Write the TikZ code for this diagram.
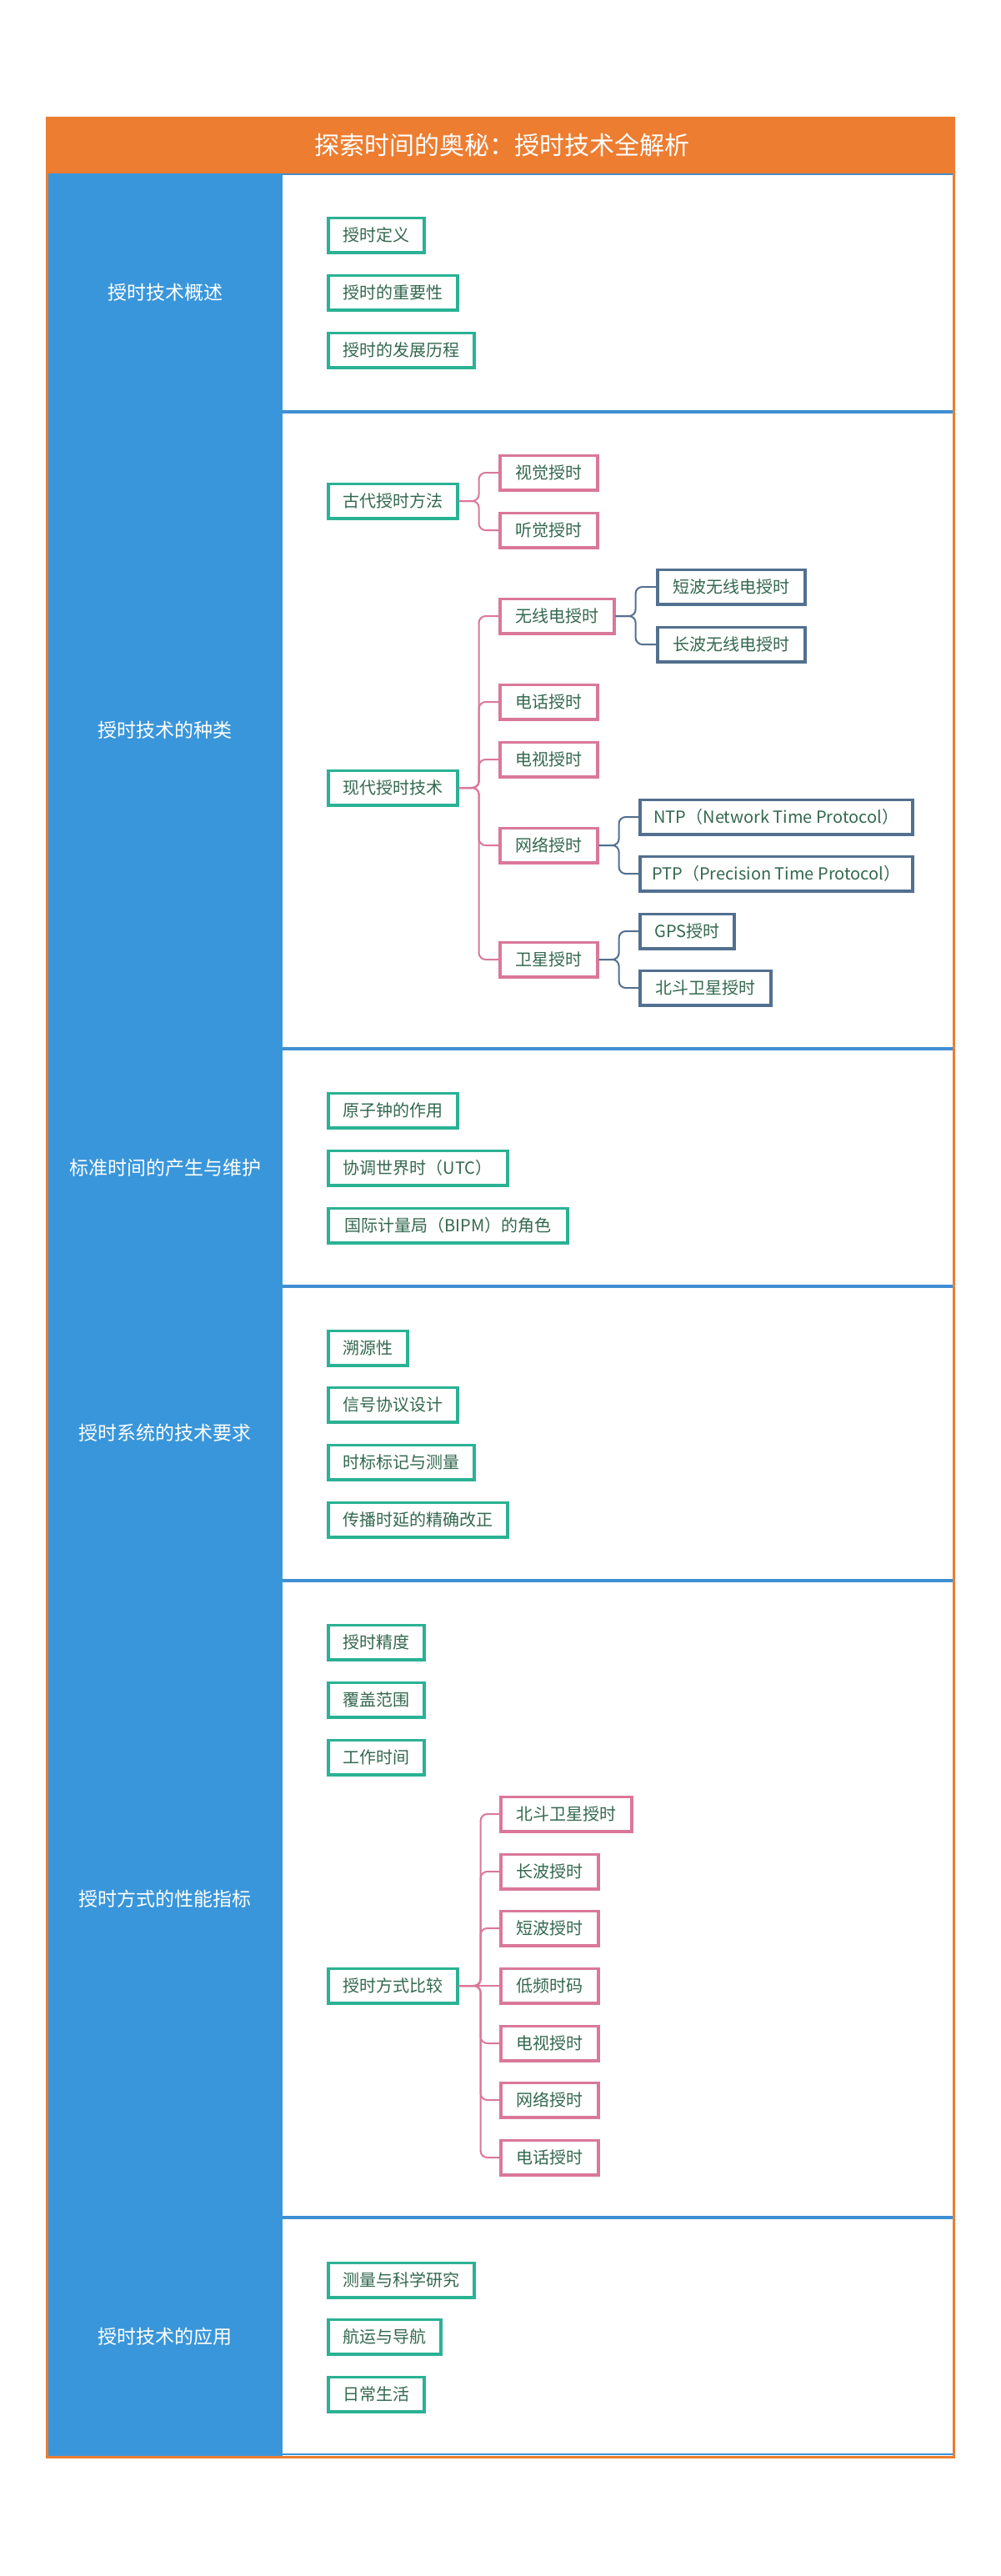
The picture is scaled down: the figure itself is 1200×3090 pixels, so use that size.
\documentclass[tikz,border=0pt]{standalone}
\usepackage{fontspec}
\setmainfont{Noto Sans CJK SC}
\definecolor{orng}{HTML}{ED7D31}
\definecolor{colblue}{HTML}{3A96DA}
\definecolor{sepblue}{HTML}{3F8FD3}
\definecolor{grn}{HTML}{2AB294}
\definecolor{pnk}{HTML}{DA7899}
\definecolor{dblue}{HTML}{52708F}
\definecolor{txt}{HTML}{33684F}
\tikzset{
  boxbase/.style={fill=white, line width=3.6pt, text=txt, font=\fontsize{20}{24}\selectfont,
    minimum height=41.4pt, inner xsep=0pt, inner ysep=0pt, anchor=west, align=center},
  gbox/.style={boxbase, draw=grn},
  pbox/.style={boxbase, draw=pnk},
  bbox/.style={boxbase, draw=dblue},
  pconn/.style={draw=pnk, line width=2pt, rounded corners=8pt},
  bconn/.style={draw=dblue, line width=2pt, rounded corners=8pt},
  seclabel/.style={text=white, font=\fontsize{23}{28}\selectfont},
  sepline/.style={draw=sepblue, line width=4pt},
}
\begin{document}
\begin{tikzpicture}[x=1pt,y=-1pt]
\useasboundingbox (0,0) rectangle (1200,3090);
\fill[white] (0,0) rectangle (1200,3090);
% title bar
\fill[orng] (55,141) rectangle (1146,208);
\node[text=white, font=\fontsize{30}{36}\selectfont] (title) at (602,174) {探索时间的奥秘：授时技术全解析};
% blue column
\fill[colblue] (57,208) rectangle (339,2946);
\draw[draw=sepblue!80!gray, line width=1.5pt] (339,209) -- (1144,209);
% separators
\coordinate (s0a) at (339,494); \coordinate (s0b) at (1144,494);
\coordinate (s1a) at (339,1258); \coordinate (s1b) at (1144,1258);
\coordinate (s2a) at (339,1543); \coordinate (s2b) at (1144,1543);
\coordinate (s3a) at (339,1896); \coordinate (s3b) at (1144,1896);
\coordinate (s4a) at (339,2660); \coordinate (s4b) at (1144,2660);
\coordinate (s5a) at (339,2944); \coordinate (s5b) at (1144,2944);
\draw[sepline] (s0a) -- (s0b);
\draw[sepline] (s1a) -- (s1b);
\draw[sepline] (s2a) -- (s2b);
\draw[sepline] (s3a) -- (s3b);
\draw[sepline] (s4a) -- (s4b);
\draw[sepline, line width=2pt] (s5a) -- (s5b);
% outer frame
\draw[orng, line width=3pt] (56.5,141) rectangle (1144.5,2947);

% section labels
\node[seclabel] (L1) at (198,351) {授时技术概述};
\node[seclabel] (L2) at (198,876) {授时技术的种类};
\node[seclabel] (L3) at (198,1401) {标准时间的产生与维护};
\node[seclabel] (L4) at (198,1719) {授时系统的技术要求};
\node[seclabel] (L5) at (198,2278) {授时方式的性能指标};
\node[seclabel] (L6) at (198,2803) {授时技术的应用};

% section 1
\node[gbox, minimum width=115pt] (a1) at (392,282) {授时定义};
\node[gbox, minimum width=155pt] (a2) at (392,351) {授时的重要性};
\node[gbox, minimum width=175pt] (a3) at (392,420) {授时的发展历程};

% section 2
\node[gbox, minimum width=155pt] (anc) at (392,601) {古代授时方法};
\node[pbox, minimum width=117pt] (vis) at (598,567) {视觉授时};
\node[pbox, minimum width=117pt] (aud) at (598,636) {听觉授时};
\node[gbox, minimum width=155pt] (mod) at (392,945) {现代授时技术};
\node[pbox, minimum width=137pt] (radio) at (598,739) {无线电授时};
\node[bbox, minimum width=177pt] (sw) at (787,704) {短波无线电授时};
\node[bbox, minimum width=177pt] (lw) at (787,773) {长波无线电授时};
\node[pbox, minimum width=117pt] (tel) at (598,842) {电话授时};
\node[pbox, minimum width=117pt] (tv) at (598,911) {电视授时};
\node[pbox, minimum width=117pt] (net) at (598,1014) {网络授时};
\node[bbox, minimum width=327pt] (ntp) at (766,980) {NTP（Network Time Protocol）};
\node[bbox, minimum width=327pt] (ptp) at (766,1048) {PTP（Precision Time Protocol）};
\node[pbox, minimum width=117pt] (sat) at (598,1151) {卫星授时};
\node[bbox, minimum width=113pt] (gps) at (766,1117) {GPS授时};
\node[bbox, minimum width=157pt] (bd) at (766,1185) {北斗卫星授时};

\draw[pconn] (anc.east) -- ++(24,0) |- (vis.west);
\draw[pconn] (anc.east) -- ++(24,0) |- (aud.west);
\draw[pconn] (mod.east) -- ++(24,0) |- (radio.west);
\draw[pconn] (mod.east) -- ++(24,0) |- (tel.west);
\draw[pconn] (mod.east) -- ++(24,0) |- (tv.west);
\draw[pconn] (mod.east) -- ++(24,0) |- (net.west);
\draw[pconn] (mod.east) -- ++(24,0) |- (sat.west);
\draw[bconn] (radio.east) -- ++(24,0) |- (sw.west);
\draw[bconn] (radio.east) -- ++(24,0) |- (lw.west);
\draw[bconn] (net.east) -- ++(24,0) |- (ntp.west);
\draw[bconn] (net.east) -- ++(24,0) |- (ptp.west);
\draw[bconn] (sat.east) -- ++(24,0) |- (gps.west);
\draw[bconn] (sat.east) -- ++(24,0) |- (bd.west);

% section 3
\node[gbox, minimum width=155pt] (c1) at (392,1332) {原子钟的作用};
\node[gbox, minimum width=215pt] (c2) at (392,1401) {协调世界时（UTC）};
\node[gbox, minimum width=287pt] (c3) at (392,1470) {国际计量局（BIPM）的角色};

% section 4
\node[gbox, minimum width=95pt] (d1) at (392,1617) {溯源性};
\node[gbox, minimum width=155pt] (d2) at (392,1685) {信号协议设计};
\node[gbox, minimum width=175pt] (d3) at (392,1754) {时标标记与测量};
\node[gbox, minimum width=215pt] (d4) at (392,1823) {传播时延的精确改正};

% section 5
\node[gbox, minimum width=115pt] (e1) at (392,1970) {授时精度};
\node[gbox, minimum width=115pt] (e2) at (392,2039) {覆盖范围};
\node[gbox, minimum width=115pt] (e3) at (392,2108) {工作时间};
\node[gbox, minimum width=155pt] (cmp) at (392,2382) {授时方式比较};
\node[pbox, minimum width=157pt] (f1) at (599,2176) {北斗卫星授时};
\node[pbox, minimum width=117pt] (f2) at (599,2245) {长波授时};
\node[pbox, minimum width=117pt] (f3) at (599,2313) {短波授时};
\node[pbox, minimum width=117pt] (f4) at (599,2382) {低频时码};
\node[pbox, minimum width=117pt] (f5) at (599,2451) {电视授时};
\node[pbox, minimum width=117pt] (f6) at (599,2519) {网络授时};
\node[pbox, minimum width=117pt] (f7) at (599,2588) {电话授时};
\draw[pconn] (cmp.east) -- ++(26,0) |- (f1.west);
\draw[pconn] (cmp.east) -- ++(26,0) |- (f2.west);
\draw[pconn] (cmp.east) -- ++(26,0) |- (f3.west);
\draw[pconn] (cmp.east) -- (f4.west);
\draw[pconn] (cmp.east) -- ++(26,0) |- (f5.west);
\draw[pconn] (cmp.east) -- ++(26,0) |- (f6.west);
\draw[pconn] (cmp.east) -- ++(26,0) |- (f7.west);

% section 6
\node[gbox, minimum width=175pt] (g1) at (392,2735) {测量与科学研究};
\node[gbox, minimum width=135pt] (g2) at (392,2803) {航运与导航};
\node[gbox, minimum width=115pt] (g3) at (392,2872) {日常生活};
\end{tikzpicture}
\end{document}
